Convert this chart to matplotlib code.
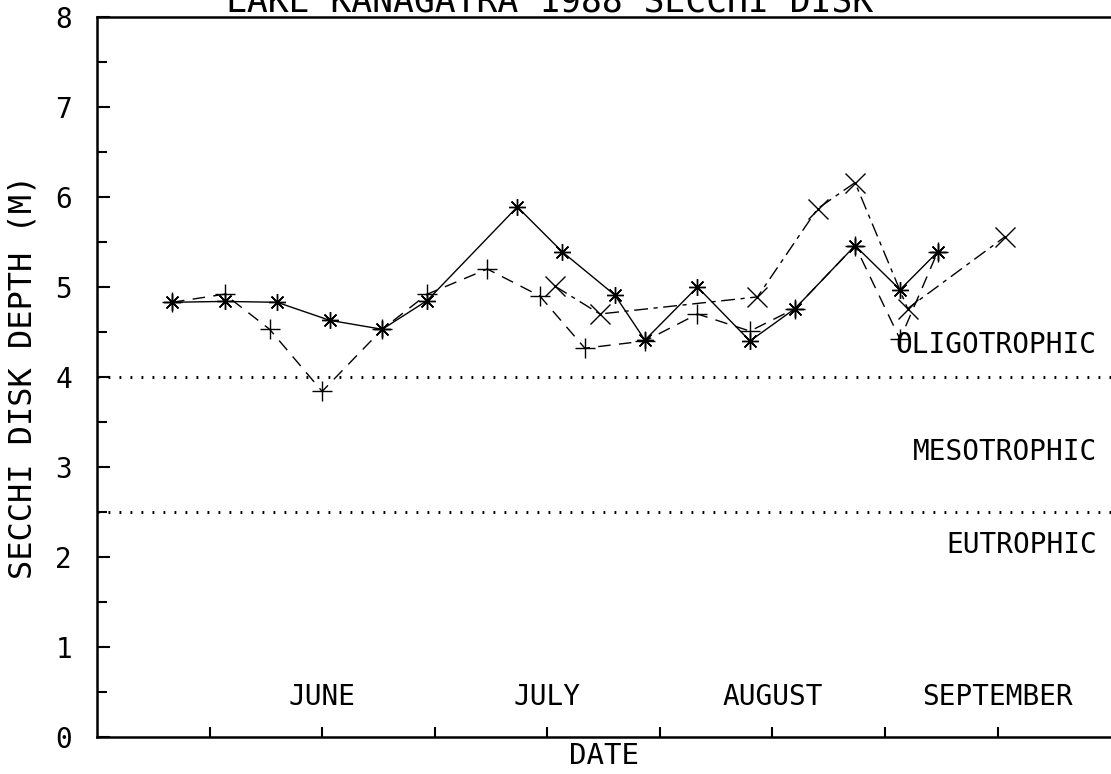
import matplotlib
matplotlib.use("Agg")
import matplotlib.pyplot as plt

# days after May 1 (ticks every 15 days), secchi depth in metres
star_days = [10, 17, 24, 31, 38, 44, 56, 62, 69, 73, 80, 87, 93, 101, 107, 112]
star_depth = [4.83, 4.84, 4.83, 4.63, 4.53, 4.85, 5.89, 5.39, 4.91, 4.41, 5.0, 4.4, 4.76, 5.46, 4.97, 5.39]

plus_days = [10, 17, 23, 30, 38, 44, 52, 59, 65, 73, 80, 87, 93, 101, 107, 112]
plus_depth = [4.83, 4.92, 4.53, 3.84, 4.53, 4.92, 5.2, 4.9, 4.32, 4.4, 4.7, 4.51, 4.76, 5.46, 4.42, 5.39]

cross_days = [61, 67, 88, 96, 101, 108, 121]
cross_depth = [5.01, 4.7, 4.89, 5.87, 6.16, 4.76, 5.56]

month_names = ["JUNE", "JULY", "AUGUST", "SEPTEMBER"]
month_days = [30, 60, 90, 120]

zones = ["OLIGOTROPHIC", "MESOTROPHIC", "EUTROPHIC"]
zone_y = [4.36, 3.17, 2.13]
limits = [4.0, 2.5]

font = "DejaVu Sans Mono"
plt.rcParams['font.family'] = [font, 'DejaVu Sans']

fig = plt.figure(figsize=(11.11, 7.74), dpi=100)
ax = fig.add_axes([97/1111, 1 - 737/774, 1 - 97/1111, (737 - 17)/774])

ax.plot(star_days, star_depth, color='black', lw=1.0, marker=(8, 2, 0), ms=12, mew=1.0)
ax.plot(plus_days, plus_depth, color='black', lw=1.0, ls=(0, (9, 6)), marker='+', ms=15, mew=1.0)
ax.plot(cross_days, cross_depth, color='black', lw=1.0, ls=(0, (10, 4, 3, 4)), marker='x', ms=14, mew=1.0)

for lim in limits:
    ax.axhline(lim, color='black', lw=2.2, ls=(0, (0.6, 3.0)))

for name, d in zip(month_names, month_days):
    ax.text(d, 0.44, name, ha='center', va='center', fontsize=20)

for name, y in zip(zones, zone_y):
    ax.text(133.2, y, name, ha='right', va='center', fontsize=20)

ax.set_xlim(0, 135.1)
ax.set_ylim(0, 8)
ax.set_xticks([15 * i for i in range(1, 9)])
ax.set_xticklabels([])
ax.set_yticks(range(0, 9))
ax.set_yticks([i + 0.5 for i in range(8)], minor=True)
ax.tick_params(axis='y', which='major', direction='in', length=9, width=1.5, pad=18, labelsize=20)
ax.tick_params(axis='y', which='minor', direction='in', length=7, width=1.5)
ax.tick_params(axis='x', which='major', direction='in', length=7, width=1.5)

for s in ['left', 'bottom', 'top']:
    ax.spines[s].set_linewidth(1.8)
ax.spines['right'].set_visible(False)

ax.set_ylabel("SECCHI DISK DEPTH (M)", fontsize=23, labelpad=12)
ax.set_xlabel("DATE", fontsize=21, labelpad=0)

fig.text(550/1111, 1 - 12/774, "LAKE KANAGATRA 1988 SECCHI DISK", ha='center', va='baseline', fontsize=25)

fig.savefig("out.png", dpi=100)
